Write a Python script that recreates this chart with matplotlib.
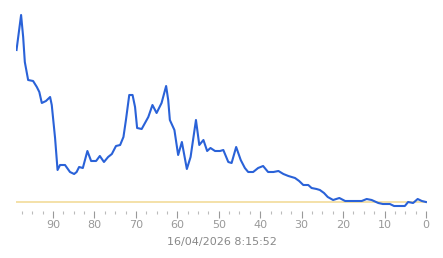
import matplotlib
matplotlib.use('Agg')
import matplotlib.pyplot as plt
from matplotlib.ticker import MultipleLocator

# time ago (reversed x axis) and series value
ago = [98.8, 97.7, 97.2, 96.8, 96.0, 94.8, 93.9, 93.3, 92.7, 91.7, 90.7, 90.3,
       89.5, 88.9, 88.3, 87.1, 85.9, 84.9, 84.3, 83.7, 82.8, 81.7, 80.8, 79.6,
       78.7, 77.7, 76.7, 75.8, 74.8, 73.8, 73.0, 72.4, 71.6, 70.8, 70.2, 69.7,
       68.6, 67.8, 67.0, 66.0, 65.0, 63.8, 62.7, 62.2, 61.8, 60.7, 59.8, 58.9,
       57.7, 56.8, 55.5, 54.7, 53.7, 52.8, 52.0, 50.9, 49.7, 48.9, 47.7, 46.9,
       45.8, 44.7, 43.7, 42.9, 41.7, 40.5, 39.3, 38.1, 36.8, 35.6, 34.4, 33.2,
       31.6, 30.6, 29.6, 28.4, 27.6, 26.4, 25.6, 24.6, 23.7, 22.4, 20.9, 19.5,
       17.5, 15.5, 14.3, 13.1, 11.5, 10.4, 8.7, 7.7, 5.1, 4.3, 3.1, 2.0, 1.0, 0.0]
value = [152, 187, 165, 140, 122, 121, 115, 110, 99, 101, 105, 97,
         64, 32, 37, 37, 30, 28, 30, 35, 34, 51, 41, 41,
         46, 40, 45, 48, 56, 57, 65, 82, 107, 107, 95, 74,
         73, 79, 85, 97, 89, 99, 116, 102, 82, 72, 47, 60,
         33, 45, 82, 57, 62, 51, 54, 51, 51, 52, 40, 39,
         55, 42, 34, 30, 30, 34, 36, 30, 30, 31, 28, 26,
         24, 21, 17, 17, 14, 13, 12, 9, 5, 2, 4, 1,
         1, 1, 3, 2, -1, -2, -2, -4, -4, 0, -1, 3, 1, 0]
date_label = '16/04/2026 8:15:52'

fig = plt.figure(figsize=(4.43, 2.58), dpi=100)
ax = fig.add_axes([15.7 / 443, 47 / 258, 411.5 / 443, 209 / 258])

ax.axhline(0, color='#f2dc9a', lw=1.2, zorder=1)
ax.plot(ago, value, color='#2a62d8', lw=1.5, zorder=2)

ax.set_xlim(99, -0.3)
ax.set_ylim(-9, 200)
for s in ax.spines.values():
    s.set_visible(False)
ax.set_yticks([])
ax.xaxis.set_major_locator(MultipleLocator(10))
ax.xaxis.set_minor_locator(MultipleLocator(2.5))
ax.tick_params(axis='x', which='major', length=5, width=0.8, color='#999999',
               labelcolor='#999999', labelsize=8, pad=1.5)
ax.tick_params(axis='x', which='minor', length=2, width=0.8, color='#bbbbbb')
ax.set_xlabel(date_label, color='#888888', fontsize=8, labelpad=5)

fig.savefig('out.png', dpi=100)
